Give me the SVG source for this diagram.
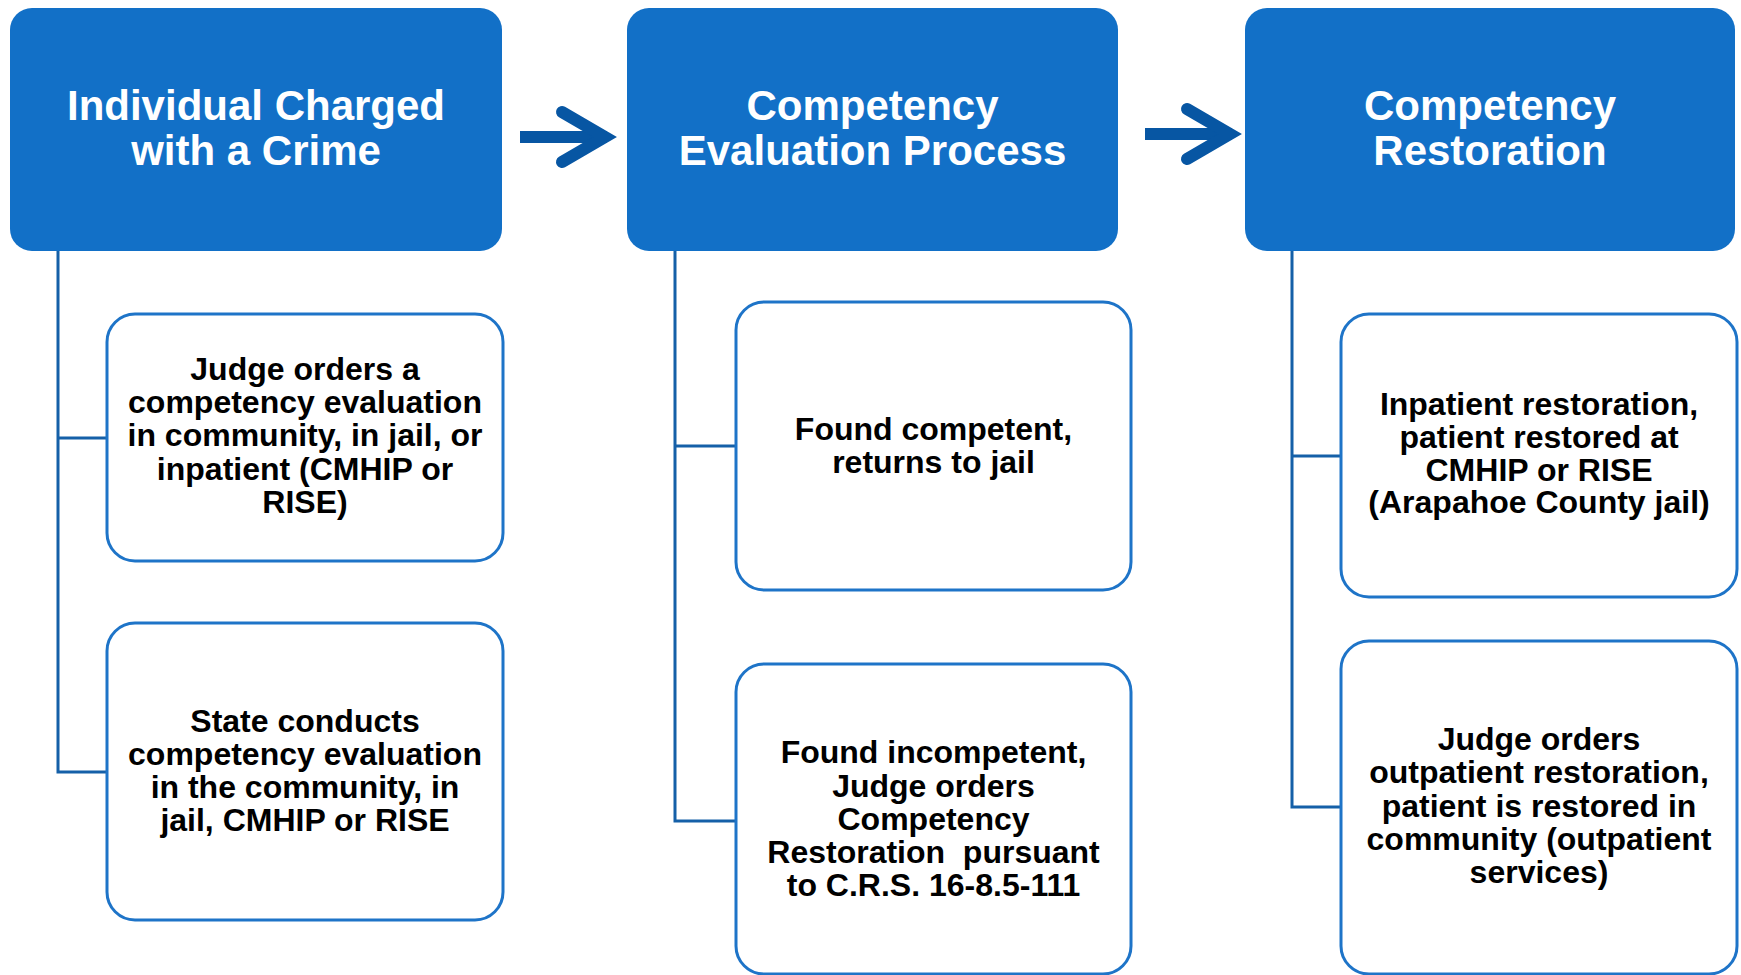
<svg xmlns="http://www.w3.org/2000/svg" width="1741" height="975" viewBox="0 0 1741 975">
<style>
.hdr{fill:#1270C7;}
.hdrt{fill:#FFFFFF;font-family:"Liberation Sans",Arial,sans-serif;font-weight:bold;font-size:42px;text-anchor:middle;}
.box{fill:#FFFFFF;stroke:#1E74C8;stroke-width:3;}
.bt{fill:#000000;font-family:"Liberation Sans",Arial,sans-serif;font-weight:bold;font-size:32px;text-anchor:middle;white-space:pre;}
.con{fill:none;stroke:#1560A8;stroke-width:3;}
.arr{fill:none;stroke:#0756A3;stroke-width:12;stroke-linecap:round;stroke-linejoin:miter;}
.shaft{fill:#0756A3;}
</style>
<rect width="1741" height="975" fill="#FFFFFF"/>
<g id="connectors">
<path class="con" d="M58,251 V772 H107 M58,438 H107"/>
<path class="con" d="M675,251 V821 H736 M675,446 H736"/>
<path class="con" d="M1292,251 V807 H1341 M1292,456 H1341"/>
<rect class="shaft" x="520" y="131" width="84" height="12"/>
<polyline class="arr" points="562,112 605,137 562,162"/>
<rect class="shaft" x="1145" y="128" width="84" height="12"/>
<polyline class="arr" points="1187,109 1230,134 1187,159"/>
</g>
<g id="h1">
<rect class="hdr" x="10" y="8" width="492" height="243" rx="22"/>
<text class="hdrt" x="256" y="120">Individual Charged</text>
<text class="hdrt" x="256" y="165">with a Crime</text>
</g>
<g id="h2">
<rect class="hdr" x="627" y="8" width="491" height="243" rx="22"/>
<text class="hdrt" x="872.5" y="120">Competency</text>
<text class="hdrt" x="872.5" y="165">Evaluation Process</text>
</g>
<g id="h3">
<rect class="hdr" x="1245" y="8" width="490" height="243" rx="22"/>
<text class="hdrt" x="1490" y="120">Competency</text>
<text class="hdrt" x="1490" y="165">Restoration</text>
</g>
<g id="b1a">
<rect class="box" x="107" y="314" width="396" height="247" rx="28"/>
<text class="bt" x="305" y="380">Judge orders a</text>
<text class="bt" x="305" y="413.2">competency evaluation</text>
<text class="bt" x="305" y="446.4">in community, in jail, or</text>
<text class="bt" x="305" y="479.6">inpatient (CMHIP or</text>
<text class="bt" x="305" y="512.8">RISE)</text>
</g>
<g id="b1b">
<rect class="box" x="107" y="623" width="396" height="297" rx="28"/>
<text class="bt" x="305" y="731.5">State conducts</text>
<text class="bt" x="305" y="764.5">competency evaluation</text>
<text class="bt" x="305" y="797.5">in the community, in</text>
<text class="bt" x="305" y="830.5">jail, CMHIP or RISE</text>
</g>
<g id="b2a">
<rect class="box" x="736" y="302" width="395" height="288" rx="28"/>
<text class="bt" x="933.5" y="440">Found competent,</text>
<text class="bt" x="933.5" y="472.7">returns to jail</text>
</g>
<g id="b2b">
<rect class="box" x="736" y="664" width="395" height="310" rx="28"/>
<text class="bt" x="933.5" y="763.3">Found incompetent,</text>
<text class="bt" x="933.5" y="796.5">Judge orders</text>
<text class="bt" x="933.5" y="829.7">Competency</text>
<text class="bt" x="933.5" y="862.9">Restoration  pursuant</text>
<text class="bt" x="933.5" y="896.1">to C.R.S. 16-8.5-111</text>
</g>
<g id="b3a">
<rect class="box" x="1341" y="314" width="396" height="283" rx="28"/>
<text class="bt" x="1539" y="415">Inpatient restoration,</text>
<text class="bt" x="1539" y="447.8">patient restored at</text>
<text class="bt" x="1539" y="480.6">CMHIP or RISE</text>
<text class="bt" x="1539" y="513.4">(Arapahoe County jail)</text>
</g>
<g id="b3b">
<rect class="box" x="1341" y="641" width="396" height="333" rx="28"/>
<text class="bt" x="1539" y="750">Judge orders</text>
<text class="bt" x="1539" y="783.3">outpatient restoration,</text>
<text class="bt" x="1539" y="816.6">patient is restored in</text>
<text class="bt" x="1539" y="849.9">community (outpatient</text>
<text class="bt" x="1539" y="883.2">services)</text>
</g>
</svg>
